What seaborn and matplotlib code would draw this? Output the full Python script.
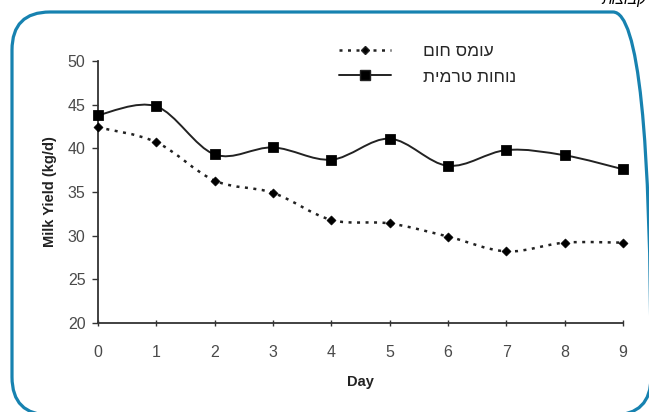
import matplotlib.pyplot as plt
import seaborn as sns
import numpy as np
from matplotlib.path import Path
from matplotlib.patches import PathPatch, FancyBboxPatch
from matplotlib.lines import Line2D

days = [0, 1, 2, 3, 4, 5, 6, 7, 8, 9]
heat_load = [42.4, 40.7, 36.3, 34.9, 31.8, 31.4, 29.9, 28.2, 29.2, 29.2]
thermal_comfort = [43.8, 44.8, 39.3, 40.1, 38.7, 41.1, 38.0, 39.8, 39.2, 37.6]
series_names = ["עומס חום", "נוחות טרמית"]
y_ticks = [20, 25, 30, 35, 40, 45, 50]

INK = "#222222"


def visual(s):
    # matplotlib has no bidi support, so Hebrew is reversed for display
    return s[::-1]


def smooth_path(x, y):
    # Excel-like smoothed line: bezier segments with catmull-rom control points
    x = np.asarray(x, float)
    y = np.asarray(y, float)
    n = len(x)
    verts = [(x[0], y[0])]
    codes = [Path.MOVETO]
    for i in range(n - 1):
        xp, yp = (x[i - 1], y[i - 1]) if i > 0 else (x[i], y[i])
        xn, yn = (x[i + 2], y[i + 2]) if i + 2 < n else (x[i + 1], y[i + 1])
        c1 = (x[i] + (x[i + 1] - xp) / 6, y[i] + (y[i + 1] - yp) / 6)
        c2 = (x[i + 1] - (xn - x[i]) / 6, y[i + 1] - (yn - y[i]) / 6)
        verts += [c1, c2, (x[i + 1], y[i + 1])]
        codes += [Path.CURVE4] * 3
    return Path(verts, codes)


def main():
    sns.set_style("ticks")
    plt.rcParams['font.family'] = ['Liberation Sans', 'DejaVu Sans']

    fig = plt.figure(figsize=(6.49, 4.12), dpi=100)
    ax = fig.add_axes([0.151, 0.216, 0.809, 0.636])

    ax.add_patch(PathPatch(smooth_path(days, heat_load), fill=False,
                           edgecolor=INK, lw=1.8, linestyle=(0, (1.2, 2.2))))
    ax.add_patch(PathPatch(smooth_path(days, thermal_comfort), fill=False,
                           edgecolor=INK, lw=1.4))
    sns.scatterplot(x=days, y=heat_load, marker="D", s=22, color="black",
                    edgecolor="black", ax=ax, zorder=3, clip_on=False)
    sns.scatterplot(x=days, y=thermal_comfort, marker="s", s=48, color="black",
                    edgecolor="black", ax=ax, zorder=3, clip_on=False)

    ax.set_xlim(0, 9)
    ax.set_ylim(20, 50)
    ax.set_xticks(days)
    ax.set_yticks(y_ticks)
    sns.despine(ax=ax)
    for s in ["left", "bottom"]:
        ax.spines[s].set_color("#333333")
        ax.spines[s].set_linewidth(1.3)
    ax.tick_params(axis="y", direction="out", length=4, width=1, pad=5,
                   labelsize=11.5, labelcolor="#4a4a4a", color="#333333")
    ax.tick_params(axis="x", direction="inout", length=5, width=1, pad=13,
                   labelsize=11.5, labelcolor="#4a4a4a", color="#333333")

    ax.set_xlabel("Day", fontsize=10.5, fontweight="bold", labelpad=11, color=INK)
    ax.set_ylabel("Milk Yield (kg/d)", fontsize=10.5, fontweight="bold",
                  labelpad=8, color=INK)

    handles = [
        Line2D([], [], color=INK, lw=1.8, linestyle=(0, (1.2, 2.2)),
               marker="D", markersize=4.5, markerfacecolor="black"),
        Line2D([], [], color=INK, lw=1.4, marker="s", markersize=7,
               markerfacecolor="black"),
    ]
    ax.legend(handles, [visual(n) for n in series_names], loc="upper left",
              bbox_to_anchor=(0.43, 1.125), frameon=False, fontsize=12.5,
              handlelength=3.0, handletextpad=1.8, labelspacing=0.6)

    # rounded frame around the figure
    frame = FancyBboxPatch((0.12, -0.03), 6.39, 4.03,
                           boxstyle="round,pad=0,rounding_size=0.38",
                           transform=fig.dpi_scale_trans, fill=False,
                           edgecolor="#1782b0", lw=2.3, clip_on=False)
    fig.patches.append(frame)

    fig.text(0.995, 1.0, visual("קבוצות"), ha="right", va="center",
             fontsize=11, style="italic", color="black")

    plt.savefig("out.png", dpi=100)


if __name__ == "__main__":
    main()
